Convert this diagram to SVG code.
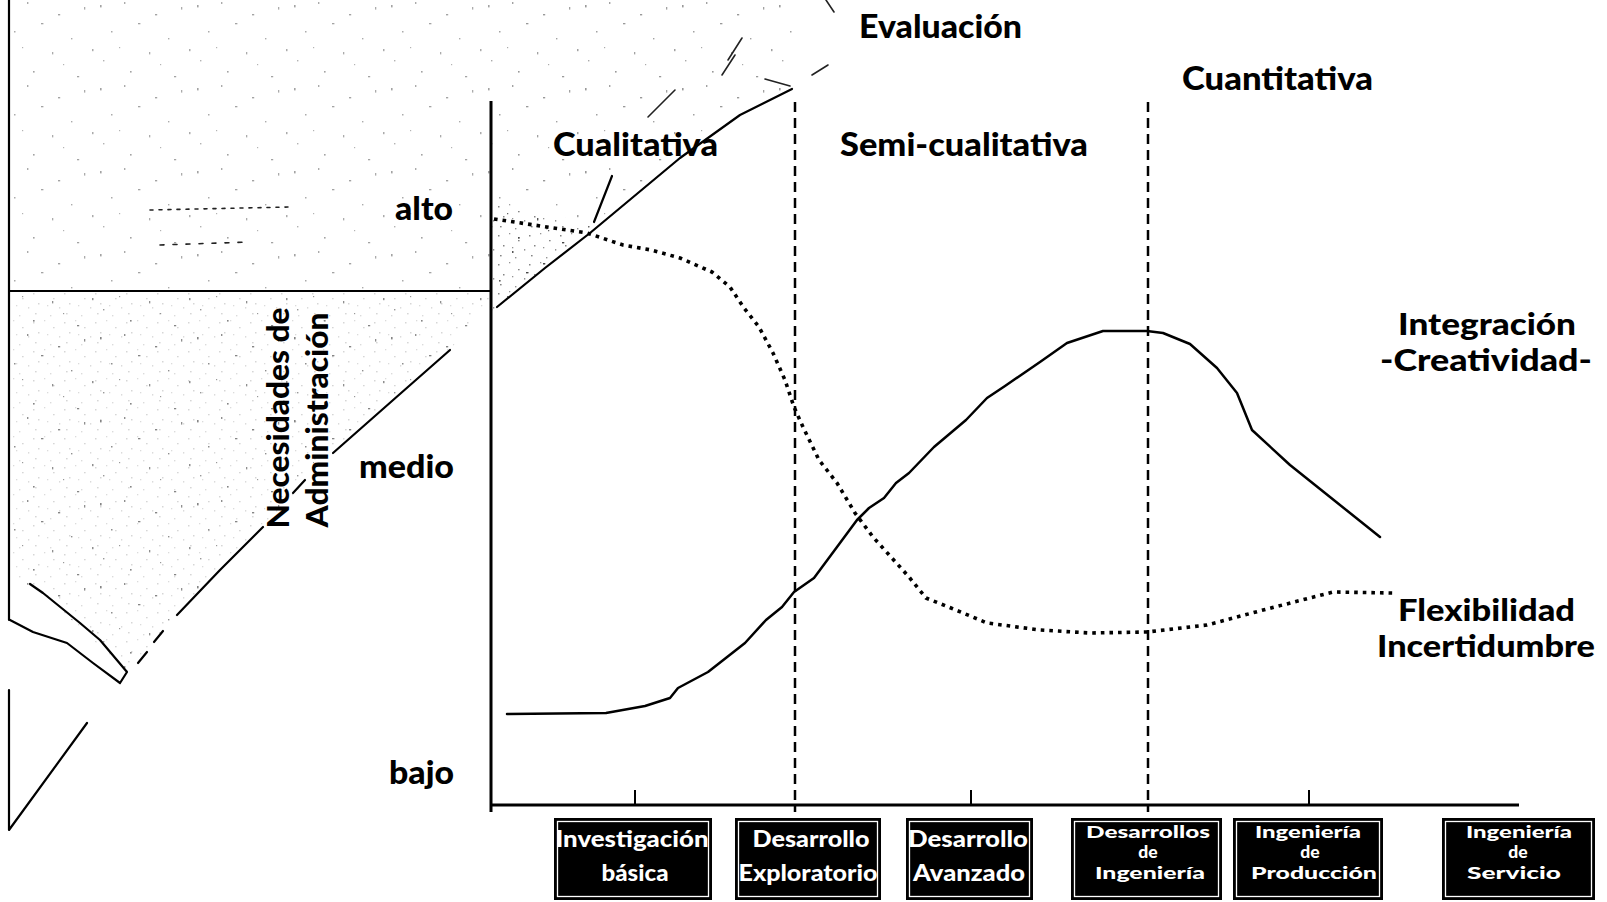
<svg xmlns="http://www.w3.org/2000/svg" width="1607" height="902" viewBox="0 0 1607 902">
  <style>
    .lbl { font-family: "Lato", "Liberation Sans", sans-serif; font-weight: 900; fill: #000; }
    .big { font-size: 32px; }
    .side { font-size: 30px; }
    .box rect.bg { fill: #000; }
    .box rect.rim { fill: none; stroke: #fff; stroke-width: 1.3; }
    .box text { font-family: "Lato", "Liberation Sans", sans-serif; font-weight: 900; font-size: 22px; fill: #fff; text-anchor: middle; }
    .box text.s { font-size: 17.5px; }
    .axis { stroke: #000; stroke-width: 3; fill: none; }
    .tick { stroke: #000; stroke-width: 2; }
    .divider { stroke: #000; stroke-width: 2.5; stroke-dasharray: 10 6; fill: none; }
    .sketch { stroke: #000; stroke-width: 2.2; fill: none; stroke-linecap: round; stroke-linejoin: round; }
    .faint { stroke: #222; stroke-width: 1.6; fill: none; stroke-linecap: round; }
    .solid { stroke: #000; stroke-width: 2.5; fill: none; stroke-linejoin: round; stroke-linecap: round; }
    .dotted { stroke: #000; stroke-width: 3.6; fill: none; stroke-dasharray: 3.6 5; stroke-linejoin: round; }
  </style>
  <defs>
    <!-- sparse scattered speckle of the shaded background drawing -->
    <pattern id="speckleA" width="97" height="83" patternUnits="userSpaceOnUse">
      <rect x="3" y="5" width="1.6" height="2.4" fill="#333"/>
      <rect x="27" y="2" width="1.4" height="2" fill="#444"/>
      <rect x="58" y="14" width="2.2" height="1.4" fill="#333"/>
      <rect x="84" y="7" width="1.3" height="2.6" fill="#444"/>
      <rect x="14" y="31" width="1.5" height="1.5" fill="#444"/>
      <rect x="41" y="23" width="2.4" height="1.3" fill="#333"/>
      <rect x="71" y="38" width="1.4" height="1.4" fill="#444"/>
      <rect x="92" y="49" width="1.5" height="2.2" fill="#444"/>
      <rect x="6" y="60" width="1.4" height="1.4" fill="#555"/>
      <rect x="33" y="71" width="1.6" height="1.6" fill="#333"/>
      <rect x="52" y="52" width="1.3" height="2.4" fill="#444"/>
      <rect x="77" y="76" width="2.2" height="1.3" fill="#333"/>
      <rect x="22" y="47" width="1.2" height="1.2" fill="#555"/>
      <rect x="63" y="64" width="1.2" height="1.2" fill="#555"/>
    </pattern>
    <!-- finer grey grain for the densely shaded parts -->
    <pattern id="speckleB" width="31" height="29" patternUnits="userSpaceOnUse">
      <rect x="2" y="3" width="1.5" height="1.5" fill="#777"/>
      <rect x="13" y="1" width="1.3" height="1.3" fill="#888"/>
      <rect x="22" y="8" width="1.6" height="1.3" fill="#777"/>
      <rect x="28" y="17" width="1.3" height="1.6" fill="#888"/>
      <rect x="7" y="13" width="1.5" height="1.5" fill="#777"/>
      <rect x="16" y="15" width="1.3" height="1.3" fill="#888"/>
      <rect x="4" y="23" width="1.6" height="1.4" fill="#777"/>
      <rect x="19" y="25" width="1.4" height="1.4" fill="#888"/>
    </pattern>
  </defs>

  <rect width="1607" height="902" fill="#fff"/>

  <!-- background perspective drawing (shaded) -->
  <g id="background-sketch">
    <path d="M9,0 H490 V291 H9 Z" fill="url(#speckleA)" opacity="0.45"/>
    <path d="M491,0 H800 L792,89 L680,158 L590,233 L497,307 L491,312 Z" fill="url(#speckleA)" opacity="0.5"/>
    <path d="M9,293 H490 V300 L450,350 L333,453 L263,527 L177,615 L127,672 L43,593 L9,575 Z" fill="url(#speckleA)" opacity="0.6"/>
    <path d="M9,293 H490 V300 L450,350 L333,453 L263,527 L177,615 L127,672 L43,593 L9,575 Z" fill="url(#speckleB)" opacity="0.3"/>
    <path d="M493,200 L594,225 L497,307 L493,312 Z" fill="url(#speckleB)" opacity="0.9"/>
    <path d="M493,200 L594,225 L497,307 L493,312 Z" fill="url(#speckleA)" opacity="0.8"/>
    <!-- frame and horizon -->
    <line x1="9" y1="0" x2="9" y2="620" class="sketch" stroke-width="2.5"/>
    <line x1="9" y1="291" x2="490" y2="291" class="sketch" stroke-width="3"/>
    <!-- slanted bar -->
    <polyline points="10,620 33,632 67,643 93,663 120,683 127,672 100,640 80,623 43,593 30,584" class="sketch"/>
    <!-- lower wedge -->
    <polyline points="9,690 9,830 87,723" class="sketch"/>
    <line x1="138" y1="663" x2="147" y2="652" class="sketch"/>
    <line x1="154" y1="642" x2="163" y2="631" class="sketch"/>
    <polyline points="177,615 220,570 263,527" class="sketch"/>
    <line x1="293" y1="493" x2="305" y2="480" class="sketch"/>
    <polyline points="333,453 392,401 450,350" class="sketch"/>
    <polyline points="497,307 545,268 590,233 680,158 740,115 792,89" class="sketch"/>
    <line x1="594" y1="222" x2="612" y2="176" class="sketch"/>
    <!-- loose fragments of the shaded drawing -->
    <line x1="648" y1="117" x2="675" y2="90" class="faint"/>
    <line x1="722" y1="75" x2="735" y2="55" class="faint"/>
    <line x1="765" y1="79" x2="790" y2="86" class="faint"/>
    <line x1="812" y1="75" x2="828" y2="65" class="faint"/>
    <line x1="826" y1="0" x2="834" y2="12" class="faint"/>
    <line x1="728" y1="60" x2="742" y2="38" class="faint"/>
    <line x1="150" y1="210" x2="290" y2="207" class="faint" stroke-dasharray="3 6"/>
    <line x1="160" y1="245" x2="250" y2="242" class="faint" stroke-dasharray="4 9"/>
  </g>

  <!-- axes -->
  <g id="axes">
    <line x1="491" y1="101" x2="491" y2="812" class="axis"/>
    <line x1="491" y1="805" x2="1519" y2="805" class="axis"/>
    <line x1="635" y1="790" x2="635" y2="805" class="tick"/>
    <line x1="971" y1="790" x2="971" y2="805" class="tick"/>
    <line x1="1309" y1="790" x2="1309" y2="805" class="tick"/>
  </g>

  <!-- stage dividers -->
  <g id="dividers">
    <line x1="795" y1="102" x2="795" y2="812" class="divider"/>
    <line x1="1148" y1="102" x2="1148" y2="812" class="divider"/>
  </g>

  <!-- curves -->
  <g id="connectors">
    <polyline id="curve-integracion" class="solid" points="507,714 606,713 645,706 670,698 678,688 708,672 745,643 766,620 782,607 794,592 814,578 837,547 857,520 869,508 884,498 896,483 909,473 934,447 966,420 987,398 1005,386 1040,362 1067,343 1103,331 1147,331 1163,333 1190,344 1208,360 1217,368 1237,393 1252,430 1290,465 1380,537"/>
    <polyline id="curve-flexibilidad" class="dotted" points="494,219 534,225 587,233 623,245 651,250 680,258 712,272 730,287 744,308 759,327 773,353 785,380 794,407 803,427 819,460 837,483 855,513 873,537 891,557 909,577 926,598 951,608 987,623 1040,630 1090,633 1147,632 1207,625 1267,609 1333,592 1393,593"/>
  </g>

  <!-- axis and region labels -->
  <g id="labels">
    <text class="lbl big" x="859" y="38" textLength="163" lengthAdjust="spacingAndGlyphs">Evaluación</text>
    <text class="lbl big" x="1182" y="90" textLength="191" lengthAdjust="spacingAndGlyphs">Cuantitativa</text>
    <text class="lbl big" x="553" y="156" textLength="165" lengthAdjust="spacingAndGlyphs">Cualitativa</text>
    <text class="lbl big" x="840" y="156" textLength="248" lengthAdjust="spacingAndGlyphs">Semi-cualitativa</text>
    <text class="lbl big" x="395" y="220" textLength="58" lengthAdjust="spacingAndGlyphs">alto</text>
    <text class="lbl big" x="359" y="478" textLength="95" lengthAdjust="spacingAndGlyphs">medio</text>
    <text class="lbl big" x="389" y="784" textLength="65" lengthAdjust="spacingAndGlyphs">bajo</text>
    <text class="lbl" font-size="30" text-anchor="middle" transform="translate(289,418) rotate(-90)" textLength="221" lengthAdjust="spacingAndGlyphs">Necesidades de</text>
    <text class="lbl" font-size="30" text-anchor="middle" transform="translate(328,420) rotate(-90)" textLength="215" lengthAdjust="spacingAndGlyphs">Administración</text>
    <text class="lbl side" x="1398" y="335" textLength="178" lengthAdjust="spacingAndGlyphs">Integración</text>
    <text class="lbl side" x="1380" y="371" textLength="212" lengthAdjust="spacingAndGlyphs">-Creatividad-</text>
    <text class="lbl side" x="1398" y="621" textLength="177" lengthAdjust="spacingAndGlyphs">Flexibilidad</text>
    <text class="lbl side" x="1377" y="657" textLength="218" lengthAdjust="spacingAndGlyphs">Incertidumbre</text>
  </g>

  <!-- stage boxes -->
  <g id="stage-investigacion" class="box">
    <rect class="bg" x="554" y="818" width="158" height="82"/>
    <rect class="rim" x="557.5" y="821.5" width="151" height="75"/>
    <text x="632" y="847" textLength="153" lengthAdjust="spacingAndGlyphs">Investigación</text>
    <text x="635" y="881" textLength="67" lengthAdjust="spacingAndGlyphs">básica</text>
  </g>
  <g id="stage-exploratorio" class="box">
    <rect class="bg" x="735" y="818" width="146" height="82"/>
    <rect class="rim" x="738.5" y="821.5" width="139" height="75"/>
    <text x="811" y="847" textLength="117" lengthAdjust="spacingAndGlyphs">Desarrollo</text>
    <text x="808" y="881" textLength="139" lengthAdjust="spacingAndGlyphs">Exploratorio</text>
  </g>
  <g id="stage-avanzado" class="box">
    <rect class="bg" x="906" y="818" width="127" height="82"/>
    <rect class="rim" x="909.5" y="821.5" width="120" height="75"/>
    <text x="968" y="847" textLength="120" lengthAdjust="spacingAndGlyphs">Desarrollo</text>
    <text x="969" y="881" textLength="112" lengthAdjust="spacingAndGlyphs">Avanzado</text>
  </g>
  <g id="stage-ingenieria" class="box">
    <rect class="bg" x="1071" y="818" width="151" height="82"/>
    <rect class="rim" x="1074.5" y="821.5" width="144" height="75"/>
    <text class="s" x="1148" y="838" textLength="124" lengthAdjust="spacingAndGlyphs">Desarrollos</text>
    <text class="s" x="1148" y="858">de</text>
    <text class="s" x="1150" y="879" textLength="110" lengthAdjust="spacingAndGlyphs">Ingeniería</text>
  </g>
  <g id="stage-produccion" class="box">
    <rect class="bg" x="1233" y="818" width="150" height="82"/>
    <rect class="rim" x="1236.5" y="821.5" width="143" height="75"/>
    <text class="s" x="1308" y="838" textLength="106" lengthAdjust="spacingAndGlyphs">Ingeniería</text>
    <text class="s" x="1310" y="858">de</text>
    <text class="s" x="1314" y="879" textLength="126" lengthAdjust="spacingAndGlyphs">Producción</text>
  </g>
  <g id="stage-servicio" class="box">
    <rect class="bg" x="1442" y="818" width="153" height="82"/>
    <rect class="rim" x="1445.5" y="821.5" width="146" height="75"/>
    <text class="s" x="1519" y="838" textLength="106" lengthAdjust="spacingAndGlyphs">Ingeniería</text>
    <text class="s" x="1518" y="858">de</text>
    <text class="s" x="1514" y="879" textLength="94" lengthAdjust="spacingAndGlyphs">Servicio</text>
  </g>
</svg>
